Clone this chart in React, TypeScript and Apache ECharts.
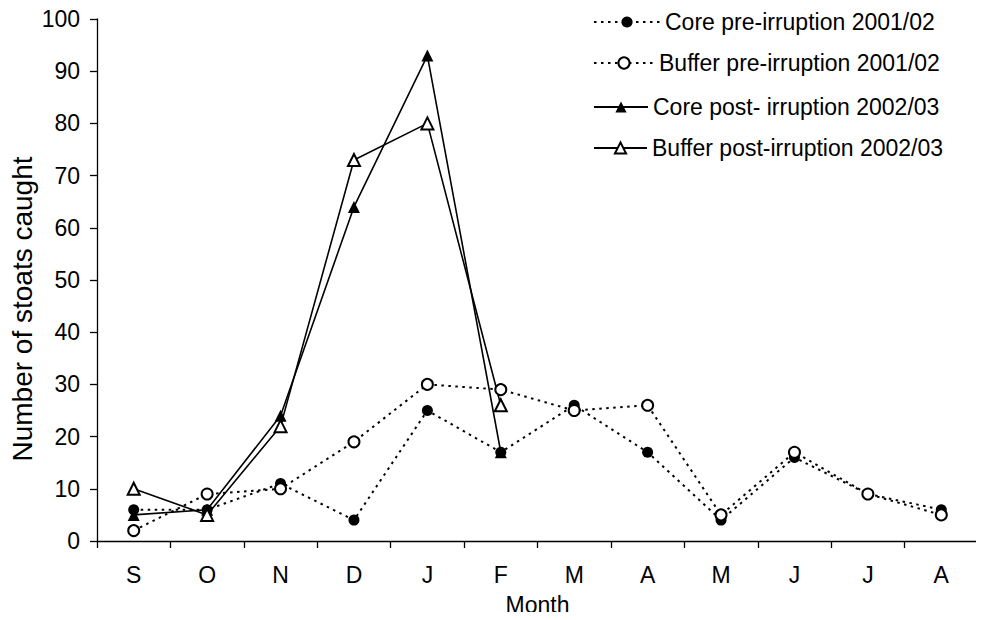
import React, { useEffect, useRef } from "react";
import * as echarts from "echarts";

const months = ["S", "O", "N", "D", "J", "F", "M", "A", "M", "J", "J", "A"];
const corePre = [6, 6, 11, 4, 25, 17, 26, 17, 4, 16, 9, 6];
const bufferPre = [2, 9, 10, 19, 30, 29, 25, 26, 5, 17, 9, 5];
const corePost = [5, 6, 24, 64, 93, 17, null, null, null, null, null, null];
const bufferPost = [10, 5, 22, 73, 80, 26, null, null, null, null, null, null];
const seriesNames = [
  "Core pre-irruption 2001/02",
  "Buffer pre-irruption 2001/02",
  "Core post- irruption 2002/03",
  "Buffer post-irruption 2002/03",
];
const yTicks = { min: 0, max: 100, interval: 10 };

const FONT = "'Liberation Sans', Arial, sans-serif";

export default function App() {
  const ref = useRef<HTMLDivElement>(null);
  useEffect(() => {
    if (!ref.current) return;
    const chart = echarts.init(ref.current, undefined, { renderer: "svg" });
    const dotted = { color: "#000", width: 2, type: [2.5, 4.5] as any };
    const solid = { color: "#000", width: 1.6, type: "solid" as any };
    const legendRow = (name: string, top: number, w: number) => ({
      show: true,
      data: [name],
      orient: "vertical",
      left: 593,
      top,
      itemWidth: w,
      itemHeight: 14,
      padding: 0,
      selectedMode: false,
      textStyle: { fontFamily: FONT, fontSize: 23, color: "#000", lineHeight: 24 },
    });
    chart.setOption({
      animation: false,
      backgroundColor: "#fff",
      grid: { left: 97, right: 6, top: 19, bottom: 79, containLabel: false, outerBoundsMode: "none" },
      legend: [
        legendRow(seriesNames[0], 10, 66),
        legendRow(seriesNames[1], 51, 60),
        legendRow(seriesNames[2], 95, 54),
        legendRow(seriesNames[3], 136, 53),
      ],
      xAxis: {
        type: "category",
        data: months,
        boundaryGap: true,
        name: "Month",
        nameLocation: "middle",
        nameGap: 52,
        nameTextStyle: { fontFamily: FONT, fontSize: 23, color: "#000" },
        axisLine: { show: true, lineStyle: { color: "#000", width: 1.3 } },
        axisTick: { show: true, length: 7, interval: 0, lineStyle: { color: "#000", width: 1.3 } },
        axisLabel: { fontFamily: FONT, fontSize: 23, color: "#000", margin: 22, interval: 0 },
        splitLine: { show: false },
      },
      yAxis: {
        type: "value",
        min: yTicks.min,
        max: yTicks.max,
        interval: yTicks.interval,
        axisLine: { show: true, lineStyle: { color: "#000", width: 1.3 } },
        axisTick: { show: true, length: 7, lineStyle: { color: "#000", width: 1.3 } },
        axisLabel: { fontFamily: FONT, fontSize: 23, color: "#000", margin: 17 },
        splitLine: { show: false },
      },
      graphic: [
        {
          type: "text",
          x: 22,
          y: 309,
          rotation: Math.PI / 2,
          style: {
            text: "Number of stoats caught",
            fontFamily: FONT,
            fontSize: 28,
            fill: "#000",
            align: "center",
            verticalAlign: "middle",
          },
        },
      ],
      series: [
        {
          name: seriesNames[0],
          type: "line",
          data: corePre,
          symbol: "circle",
          symbolSize: 11,
          itemStyle: { color: "#000" },
          lineStyle: dotted,
        },
        {
          name: seriesNames[1],
          type: "line",
          data: bufferPre,
          symbol: "emptyCircle",
          symbolSize: 11,
          itemStyle: { color: "#000", borderWidth: 1.5 },
          lineStyle: dotted,
        },
        {
          name: seriesNames[2],
          type: "line",
          data: corePost,
          symbol: "triangle",
          symbolSize: 12,
          itemStyle: { color: "#000" },
          lineStyle: solid,
        },
        {
          name: seriesNames[3],
          type: "line",
          data: bufferPost,
          symbol: "emptyTriangle",
          symbolSize: 12,
          itemStyle: { color: "#000", borderWidth: 1.5 },
          lineStyle: solid,
        },
      ],
    });
    return () => chart.dispose();
  }, []);
  return <div ref={ref} style={{ width: 984, height: 620, margin: -8 }} />;
}
